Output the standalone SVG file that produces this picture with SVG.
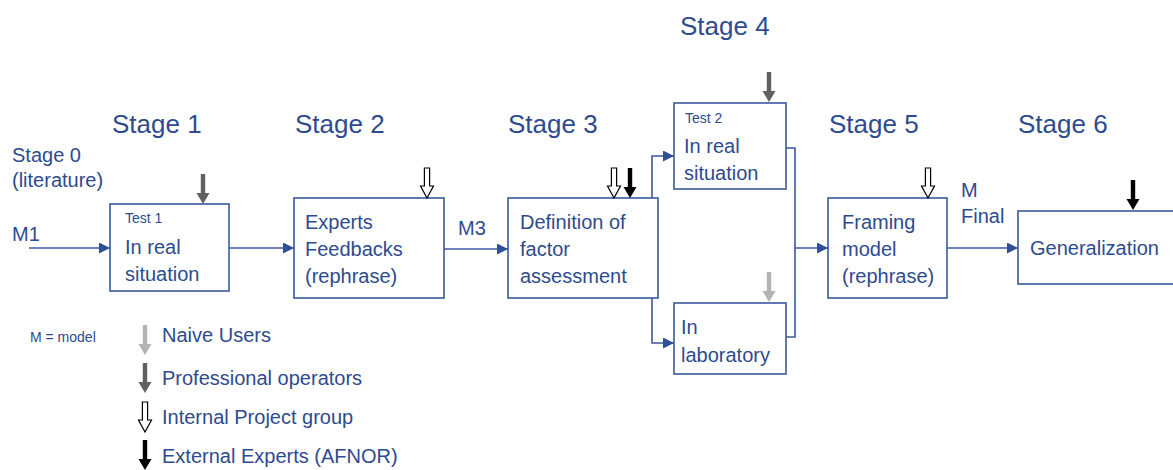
<svg xmlns="http://www.w3.org/2000/svg" width="1173" height="470" viewBox="0 0 1173 470">
<style>
text{font-family:"Liberation Sans",Arial,sans-serif;fill:#2e4b8f}
.st{font-size:26px}
.b{font-size:20px}
.s{font-size:14px}
.box{fill:#fff;stroke:#3a5a9e;stroke-width:1.6}
.con{fill:none;stroke:#3a5a9e;stroke-width:1.6}
.dk{fill:#606060}
.lt{fill:#b4b4b4}
.bk{fill:#000}
.wh{fill:#fff;stroke:#000;stroke-width:1.2}
</style>
<defs>
<marker id="ah" markerUnits="userSpaceOnUse" markerWidth="11" markerHeight="11" refX="11" refY="5.5" orient="auto">
<path d="M0,0 L11,5.5 L0,11 Z" fill="#2f4f96"/>
</marker>
<path id="fa" d="M-2.2,-30 H2.2 V-11 H6.5 L0,0 L-6.5,-11 H-2.2 Z"/>
<path id="ha" d="M-2.6,-30 H2.6 V-12 H6.5 L0,0 L-6.5,-12 H-2.6 Z"/>
</defs>

<g id="headings">
<text class="st" x="680" y="35">Stage 4</text>
<text class="st" x="112" y="133">Stage 1</text>
<text class="st" x="295" y="133">Stage 2</text>
<text class="st" x="508" y="133">Stage 3</text>
<text class="st" x="829" y="133">Stage 5</text>
<text class="st" x="1018" y="133">Stage 6</text>
<text class="b" x="12" y="162">Stage 0</text>
<text class="b" x="12" y="187">(literature)</text>
</g>

<g id="connectors">
<line class="con" x1="29" y1="248" x2="110" y2="248" marker-end="url(#ah)"/>
<line class="con" x1="229" y1="248" x2="294" y2="248" marker-end="url(#ah)"/>
<line class="con" x1="444" y1="249" x2="508" y2="249" marker-end="url(#ah)"/>
<polyline class="con" points="652,198 652,156 674,156" marker-end="url(#ah)"/>
<polyline class="con" points="652,298 652,343 674,343" marker-end="url(#ah)"/>
<polyline class="con" points="786,148 795,148 795,337 786,337"/>
<line class="con" x1="795" y1="248" x2="828" y2="248" marker-end="url(#ah)"/>
<line class="con" x1="947" y1="248" x2="1018" y2="248" marker-end="url(#ah)"/>
<text class="b" x="12" y="241">M1</text>
<text class="b" x="458" y="235">M3</text>
<text class="b" x="961" y="197">M</text>
<text class="b" x="961" y="223">Final</text>
</g>

<g id="test1">
<rect class="box" x="110" y="204" width="119" height="87"/>
<text class="s" x="125" y="223">Test 1</text>
<text class="b" x="125" y="254">In real</text>
<text class="b" x="125" y="281">situation</text>
<use href="#fa" class="dk" x="203" y="204"/>
</g>

<g id="experts">
<rect class="box" x="294" y="198" width="150" height="100"/>
<text class="b" x="305" y="229">Experts</text>
<text class="b" x="305" y="256">Feedbacks</text>
<text class="b" x="305" y="283">(rephrase)</text>
<use href="#ha" class="wh" x="427" y="198"/>
</g>

<g id="definition">
<rect class="box" x="508" y="198" width="150" height="100"/>
<text class="b" x="520" y="229">Definition of</text>
<text class="b" x="520" y="256">factor</text>
<text class="b" x="520" y="283">assessment</text>
<use href="#ha" class="wh" x="614" y="198"/>
<use href="#fa" class="bk" x="630" y="198"/>
</g>

<g id="test2">
<rect class="box" x="674" y="103" width="112" height="86"/>
<text class="s" x="685" y="123">Test 2</text>
<text class="b" x="684" y="153">In real</text>
<text class="b" x="684" y="180">situation</text>
<use href="#fa" class="dk" x="769" y="102"/>
</g>

<g id="laboratory">
<rect class="box" x="674" y="303" width="112" height="71"/>
<text class="b" x="681" y="334">In</text>
<text class="b" x="681" y="362">laboratory</text>
<use href="#fa" class="lt" x="769" y="302"/>
</g>

<g id="framing">
<rect class="box" x="828" y="198" width="119" height="100"/>
<text class="b" x="842" y="229">Framing</text>
<text class="b" x="842" y="256">model</text>
<text class="b" x="842" y="283">(rephrase)</text>
<use href="#ha" class="wh" x="928" y="198"/>
</g>

<g id="generalization">
<rect class="box" x="1018" y="211" width="170" height="73"/>
<text class="b" x="1030" y="255">Generalization</text>
<use href="#fa" class="bk" x="1133" y="210"/>
</g>

<g id="legend">
<text class="s" x="30" y="342">M = model</text>
<use href="#fa" class="lt" x="145" y="355"/>
<text class="b" x="162" y="342">Naive Users</text>
<use href="#fa" class="dk" x="145" y="393"/>
<text class="b" x="162" y="385">Professional operators</text>
<use href="#ha" class="wh" x="145" y="432"/>
<text class="b" x="162" y="424">Internal Project group</text>
<use href="#fa" class="bk" x="145" y="470"/>
<text class="b" x="162" y="463">External Experts (AFNOR)</text>
</g>
</svg>
